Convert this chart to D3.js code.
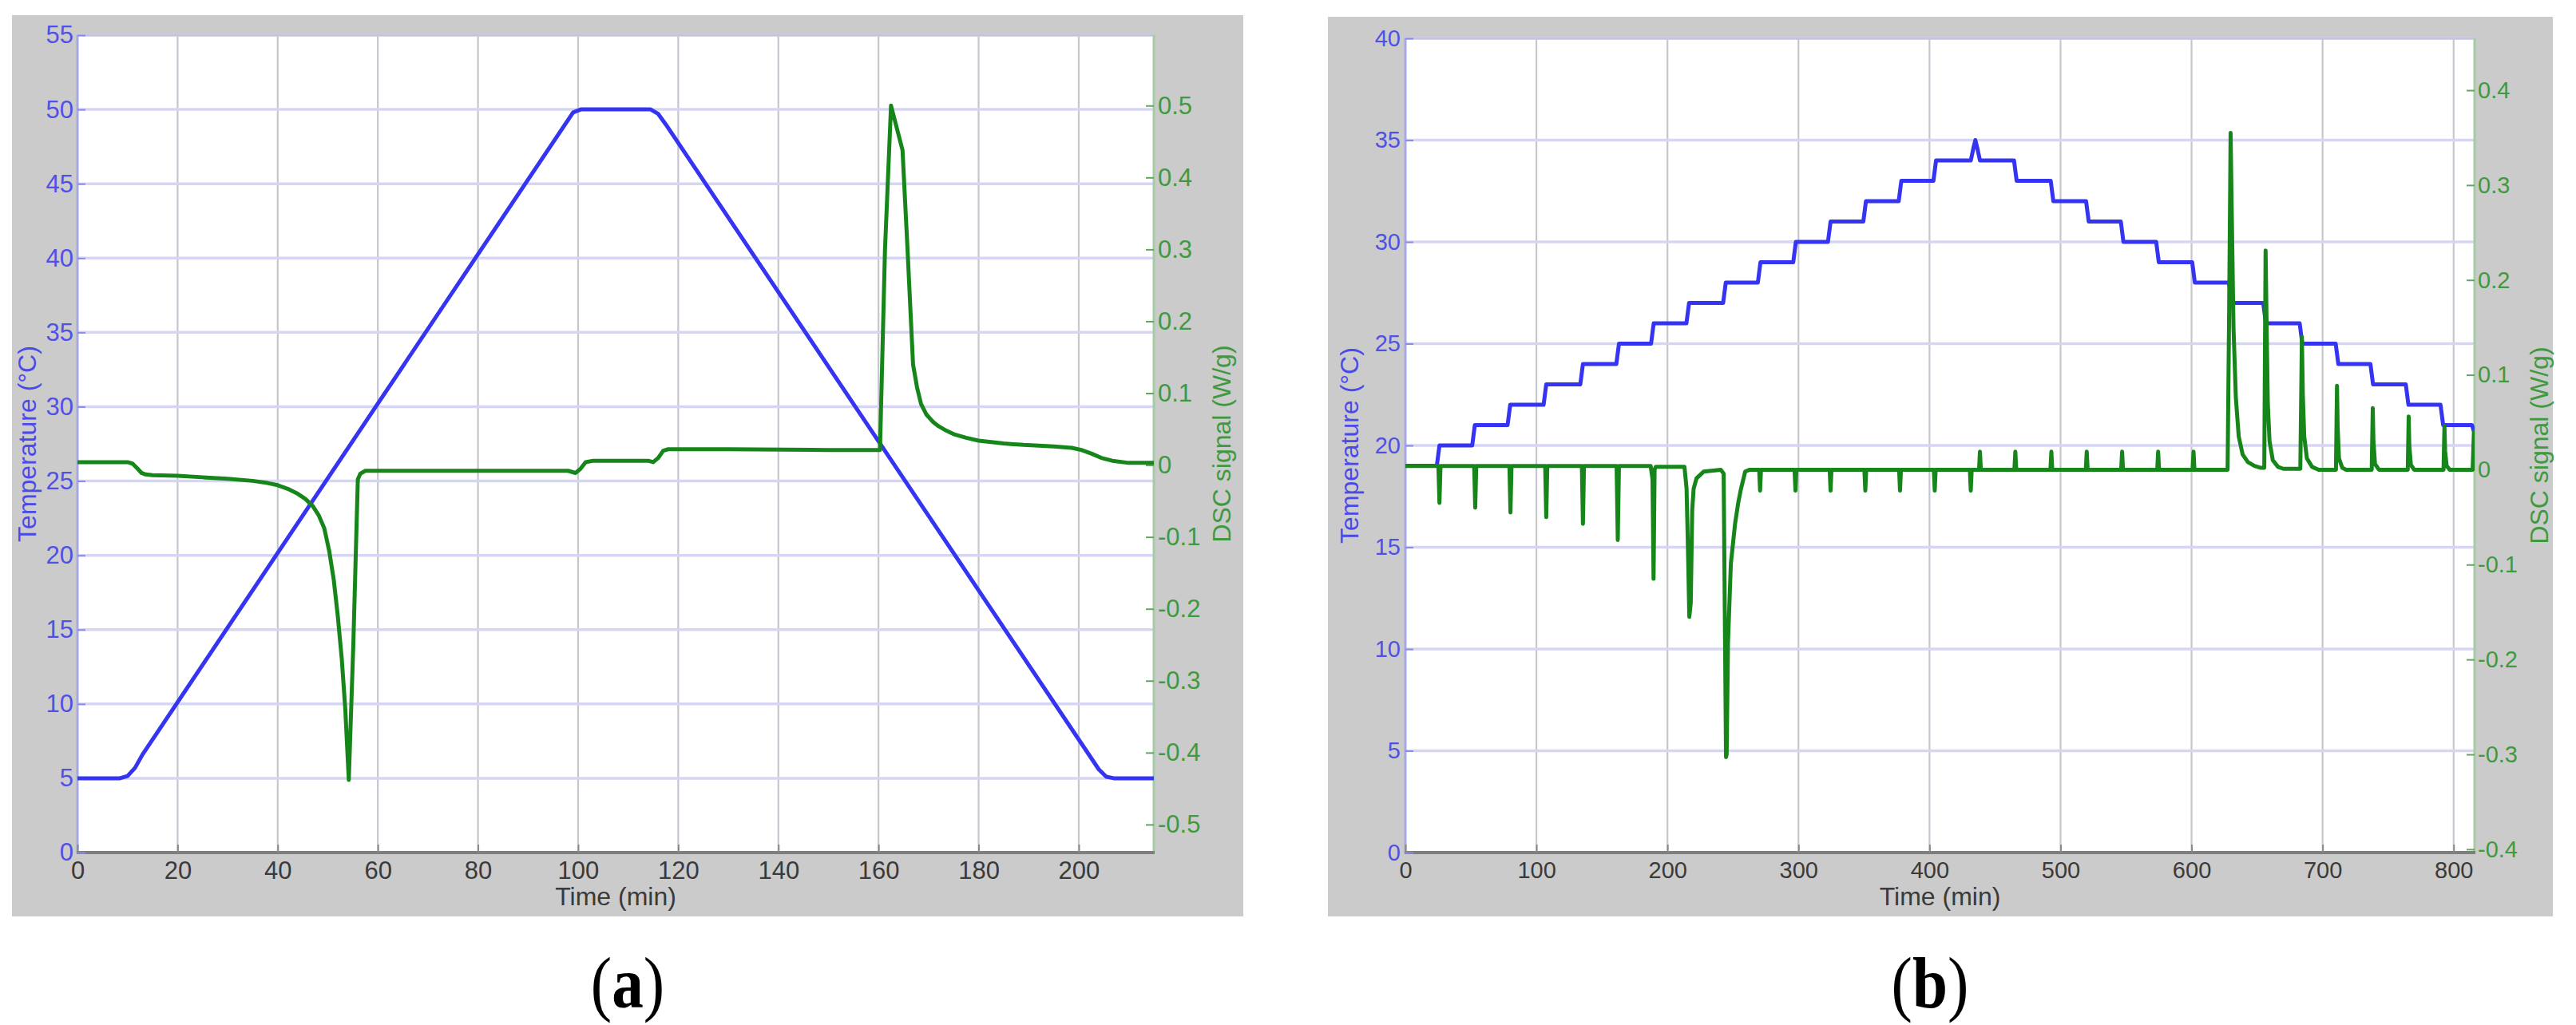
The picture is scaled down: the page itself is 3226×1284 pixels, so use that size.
<!DOCTYPE html>
<html><head><meta charset="utf-8">
<script src="https://cdn.jsdelivr.net/npm/d3@7"></script>
<style>body{margin:0;background:#fff;} svg{display:block;}</style>
</head><body>
<svg id="chart" width="3226" height="1284"></svg>
<script>
// ---------------- DATA: panel (a) ----------------
const xTicksA = [0,20,40,60,80,100,120,140,160,180,200];
const tempTicksA = [0,5,10,15,20,25,30,35,40,45,50,55];
const dscTicksA = [-0.5,-0.4,-0.3,-0.2,-0.1,0,0.1,0.2,0.3,0.4,0.5];
const timeTempA = [0, 8.5, 10, 11.5, 13, 99, 100.5, 102, 114.5, 116, 117.5, 204, 205.5, 207, 215];
const tempA     = [5, 5, 5.15, 5.7, 6.6, 49.8, 50, 50, 50, 49.7, 49, 5.6, 5.1, 5, 5];
const timeDscA = [0, 10, 11, 12, 12.8, 13.6, 15, 20, 25, 30, 35, 38, 40, 42, 44, 45.5, 47, 48.2, 49.3, 50.3, 51.2, 52, 52.8, 53.5, 54.2,
  55.1, 56, 56.5, 57.5, 70, 90, 98, 99.5, 100.5, 101.5, 103, 114, 115, 116, 117, 118, 130, 150, 160.3, 161.3, 162.5,
  164.8, 165.8, 166.9, 167.7, 168.5, 169.6, 170.9, 172, 173.5, 175, 177.5, 180, 185, 189, 195, 198.6, 200.5, 202.5, 204.5, 206.7, 210, 215];
const dscA = [0.004, 0.004, 0.002, -0.005, -0.011, -0.013, -0.014, -0.015, -0.017, -0.019, -0.022, -0.025, -0.028, -0.033, -0.04, -0.047, -0.057, -0.07, -0.088, -0.12, -0.16, -0.21, -0.27, -0.34, -0.438,
  -0.25, -0.02, -0.012, -0.008, -0.008, -0.008, -0.008, -0.011, -0.005, 0.004, 0.006, 0.006, 0.004, 0.01, 0.02, 0.022, 0.022, 0.021, 0.021, 0.3, 0.5,
  0.438, 0.3, 0.14, 0.108, 0.085, 0.07, 0.06, 0.054, 0.048, 0.043, 0.038, 0.034, 0.03, 0.028, 0.026, 0.024, 0.021, 0.016, 0.01, 0.006, 0.003, 0.003];

// ---------------- DATA: panel (b) ----------------
const xTicksB = [0,100,200,300,400,500,600,700,800];
const tempTicksB = [0,5,10,15,20,25,30,35,40];
const dscTicksB = [-0.4,-0.3,-0.2,-0.1,0,0.1,0.2,0.3,0.4];
const timeTempB = [0, 24, 26, 51, 53, 78, 80, 105.5, 107.5, 133.5, 135.5, 161, 163, 187.5, 189.5, 214.5, 216.5,
  242.5, 244.5, 269, 271, 296, 298, 322.5, 324.5, 349.5, 351.5, 376.5, 378.5, 403, 405,
  431.5, 433.5, 435, 436.5, 438.5,
  464.5, 466.5, 492.5, 494.5, 519.5, 521.5, 546, 548, 573, 575, 600.5, 602.5, 628.5, 630.5,
  654.7, 656.7, 682.5, 684.5, 710, 712, 736.5, 738.5, 763.5, 765.5, 790, 792, 814, 815.5];
const tempB = [19, 19, 20, 20, 21, 21, 22, 22, 23, 23, 24, 24, 25, 25, 26, 26, 27,
  27, 28, 28, 29, 29, 30, 30, 31, 31, 32, 32, 33, 33, 34,
  34, 34.6, 35, 34.6, 34,
  34, 33, 33, 32, 32, 31, 31, 30, 30, 29, 29, 28, 28, 27,
  27, 26, 26, 25, 25, 24, 24, 23, 23, 22, 22, 21, 21, 20.7];
const timeDscB = [0,
  25.2, 26, 26.8, 52.5, 53.3, 54.1, 79.4, 80.2, 81, 106.7, 107.5, 108.3, 134.7, 135.5, 136.3, 161.2, 162.1, 163,
  187.2, 188.6, 189.4, 190.2, 191,
  213, 214.6, 215.6, 216.7, 217.8, 218.9, 220, 222.2, 227.6, 240.7, 242.9, 244.7, 245.2, 246.2, 248.4, 251.6, 254, 256, 259.3, 262.5,
  270, 270.7, 271.4, 297, 297.7, 298.4, 323.8, 324.5, 325.2, 350.3, 351, 351.7, 376.8, 377.5, 378.2, 403.3, 404, 404.7, 430.8, 431.5, 432.2,
  437.8, 438.5, 439.2, 464.8, 465.5, 466.2, 492.3, 493, 493.7, 519.3, 520, 520.7, 546.3, 547, 547.7, 573.8, 574.5, 575.2, 600.8, 601.5, 602.2,
  627.5, 628.7, 629.8, 630.8, 632, 633.8, 636, 639, 643, 648, 653,
  655.5, 656, 656.5, 657.3, 658.2, 659.5, 662, 666, 670,
  683, 683.6, 684.2, 684.9, 686, 688, 692, 697,
  710.2, 710.6, 711, 711.5, 712.5, 715, 718,
  737.5, 737.9, 738.3, 738.8, 740, 743,
  765, 765.35, 765.7, 766.2, 767.4, 770,
  792.3, 792.65, 793, 793.5, 794.7, 797,
  814.5, 815.5];
const dscB = [0.004,
  0.004, -0.035, 0.004, 0.004, -0.040, 0.004, 0.004, -0.045, 0.004, 0.004, -0.050, 0.004, 0.004, -0.057, 0.004, 0.004, -0.074, 0.004,
  0.004, -0.01, -0.115, 0.0, 0.003,
  0.003, -0.02, -0.08, -0.155, -0.14, -0.043, -0.02, -0.009, -0.002, 0.0, -0.004, -0.303, -0.3, -0.183, -0.099, -0.057, -0.035, -0.021, -0.002, 0.0,
  0, -0.022, 0, 0, -0.022, 0, 0, -0.022, 0, 0, -0.022, 0, 0, -0.022, 0, 0, -0.022, 0, 0, -0.022, 0,
  0, 0.019, 0, 0, 0.019, 0, 0, 0.019, 0, 0, 0.019, 0, 0, 0.019, 0, 0, 0.019, 0, 0, 0.019, 0,
  0.0, 0.17, 0.355, 0.26, 0.15, 0.076, 0.035, 0.016, 0.008, 0.004, 0.002,
  0.002, 0.12, 0.231, 0.15, 0.07, 0.03, 0.01, 0.003, 0.001,
  0.001, 0.07, 0.14, 0.08, 0.035, 0.012, 0.003, 0.0,
  0.0, 0.045, 0.0885, 0.045, 0.012, 0.002, 0,
  0, 0.033, 0.065, 0.03, 0.006, 0,
  0, 0.028, 0.056, 0.025, 0.005, 0,
  0, 0.023, 0.046, 0.02, 0.004, 0,
  0, 0.04];

// ---------------- DRAWING ----------------
const svg = d3.select('#chart');
const BLUE = '#3434f2', GREEN = '#17861a';
const FONT = '"Liberation Sans", Arial, sans-serif';

function drawPanel(cfg) {
  const g = svg.append('g');
  const [L, T, R, B] = cfg.plot;
  g.append('rect').attr('x', cfg.bg[0]).attr('y', cfg.bg[1])
    .attr('width', cfg.bg[2]-cfg.bg[0]).attr('height', cfg.bg[3]-cfg.bg[1]).attr('fill', '#cbcbcb');
  g.append('rect').attr('x', L).attr('y', T).attr('width', R-L).attr('height', B-T).attr('fill', '#fff');

  const x = d3.scaleLinear().domain(cfg.xDomain).range([L, R]);
  const yL = d3.scaleLinear().domain(cfg.yLDomain).range([B, T]);
  const yR = d3.scaleLinear().domain(cfg.yRDomain).range([B, T]);

  // grid
  g.append('g').selectAll('line').data(cfg.xTicks).join('line')
    .attr('x1', d => x(d)).attr('x2', d => x(d)).attr('y1', T).attr('y2', B)
    .attr('stroke', '#c6c6ce').attr('stroke-width', 2.2);
  g.append('g').selectAll('line').data(cfg.tempTicks).join('line')
    .attr('x1', L).attr('x2', R).attr('y1', d => yL(d)).attr('y2', d => yL(d))
    .attr('stroke', '#d6d6f4').attr('stroke-width', 3.5);

  // borders
  g.append('line').attr('x1', L).attr('x2', R).attr('y1', T).attr('y2', T).attr('stroke', '#c4c4dc').attr('stroke-width', 3);
  g.append('line').attr('x1', L).attr('x2', L).attr('y1', T).attr('y2', B).attr('stroke', '#a8a8e6').attr('stroke-width', 3);
  g.append('line').attr('x1', R).attr('x2', R).attr('y1', T).attr('y2', B).attr('stroke', '#a6cca6').attr('stroke-width', 3);
  g.append('line').attr('x1', L-1).attr('x2', R+1).attr('y1', B).attr('y2', B).attr('stroke', '#7e7e7e').attr('stroke-width', 4);

  // axes
  const ax = g.append('g').attr('transform', `translate(0,${B})`)
    .call(d3.axisBottom(x).tickValues(cfg.xTicks).tickFormat(d3.format('d')).tickSizeInner(-10).tickSizeOuter(0).tickPadding(cfg.xPad));
  ax.select('.domain').remove();
  ax.selectAll('line').attr('stroke', '#888').attr('stroke-width', 2);
  ax.selectAll('text').attr('fill', '#3a3a3a').style('font-family', FONT).style('font-size', cfg.tickFs + 'px');

  const al = g.append('g').attr('transform', `translate(${L},0)`)
    .call(d3.axisLeft(yL).tickValues(cfg.tempTicks).tickFormat(d3.format('d')).tickSizeInner(-10).tickSizeOuter(0).tickPadding(cfg.lPad));
  al.select('.domain').remove();
  al.selectAll('line').attr('stroke', '#8c8ce8').attr('stroke-width', 2);
  al.selectAll('text').attr('fill', '#5050e6').style('font-family', FONT).style('font-size', cfg.tickFs + 'px');

  const ar = g.append('g').attr('transform', `translate(${R},0)`)
    .call(d3.axisRight(yR).tickValues(cfg.dscTicks).tickFormat(d => d === 0 ? '0' : String(+d.toFixed(1))).tickSizeInner(-10).tickSizeOuter(0).tickPadding(cfg.rPad));
  ar.select('.domain').remove();
  ar.selectAll('line').attr('stroke', '#5fa85f').attr('stroke-width', 2);
  ar.selectAll('text').attr('fill', '#3f9a3f').style('font-family', FONT).style('font-size', cfg.tickFs + 'px');

  // axis labels
  g.append('text').attr('x', (L+R)/2).attr('y', cfg.xLabelY).attr('text-anchor', 'middle')
    .attr('fill', '#3a3a3a').style('font-family', FONT).style('font-size', '32px').text('Time (min)');
  g.append('text').attr('transform', `translate(${cfg.lLabelX},${(T+B)/2}) rotate(-90)`).attr('text-anchor', 'middle')
    .attr('fill', '#4a4ae8').style('font-family', FONT).style('font-size', '32px').text('Temperature (°C)');
  g.append('text').attr('transform', `translate(${cfg.rLabelX},${(T+B)/2}) rotate(-90)`).attr('text-anchor', 'middle')
    .attr('fill', '#3f9a3f').style('font-family', FONT).style('font-size', '32px').text('DSC signal (W/g)');

  // clip
  const cid = 'clip' + cfg.id;
  svg.append('defs').append('clipPath').attr('id', cid).append('rect')
    .attr('x', L).attr('y', T - 2).attr('width', R - L).attr('height', B - T + 2);
  const lines = g.append('g').attr('clip-path', `url(#${cid})`);

  const tempPts = cfg.timeTemp.map((t, i) => [t, cfg.temp[i]]);
  const dscPts = cfg.timeDsc.map((t, i) => [t, cfg.dsc[i]]);
  lines.append('path').datum(tempPts)
    .attr('d', d3.line().x(d => x(d[0])).y(d => yL(d[1])).curve(d3.curveLinear))
    .attr('fill', 'none').attr('stroke', BLUE).attr('stroke-width', cfg.lw).attr('stroke-linejoin', 'round').attr('stroke-linecap', 'round');
  lines.append('path').datum(dscPts)
    .attr('d', d3.line().x(d => x(d[0])).y(d => yR(d[1])).curve(d3.curveLinear))
    .attr('fill', 'none').attr('stroke', GREEN).attr('stroke-width', cfg.lw).attr('stroke-linejoin', 'round').attr('stroke-linecap', 'round');

  // caption
  const cap = svg.append('text').attr('transform', `translate(${cfg.captionX},1262) scale(0.88,1)`).attr('text-anchor', 'middle')
    .style('font-family', '"Liberation Serif", "Times New Roman", serif').style('font-size', '90px').attr('fill', '#000');
  cap.append('tspan').text('(');
  cap.append('tspan').style('font-weight', 'bold').text(cfg.letter);
  cap.append('tspan').text(')');
}

drawPanel({
  id: 'A', letter: 'a', bg: [15, 19, 1557, 1148], plot: [97, 44, 1445, 1068],
  xDomain: [0, 215], yLDomain: [0, 55], yRDomain: [-0.539, 0.598],
  xTicks: xTicksA, tempTicks: tempTicksA, dscTicks: dscTicksA,
  timeTemp: timeTempA, temp: tempA, timeDsc: timeDscA, dsc: dscA, lw: 5,
  tickFs: 31, xPad: 11, lPad: 5, rPad: 5, xLabelY: 1134, lLabelX: 45, rLabelX: 1541, captionX: 786
});
drawPanel({
  id: 'B', letter: 'b', bg: [1663, 21, 3197, 1148], plot: [1760, 48, 3099, 1068],
  xDomain: [0, 816], yLDomain: [0, 40], yRDomain: [-0.4035, 0.4547],
  xTicks: xTicksB, tempTicks: tempTicksB, dscTicks: dscTicksB,
  timeTemp: timeTempB, temp: tempB, timeDsc: timeDscB, dsc: dscB, lw: 5,
  tickFs: 29, xPad: 11, lPad: 6, rPad: 4, xLabelY: 1134, lLabelX: 1701, rLabelX: 3191, captionX: 2417
});
</script>
</body></html>
